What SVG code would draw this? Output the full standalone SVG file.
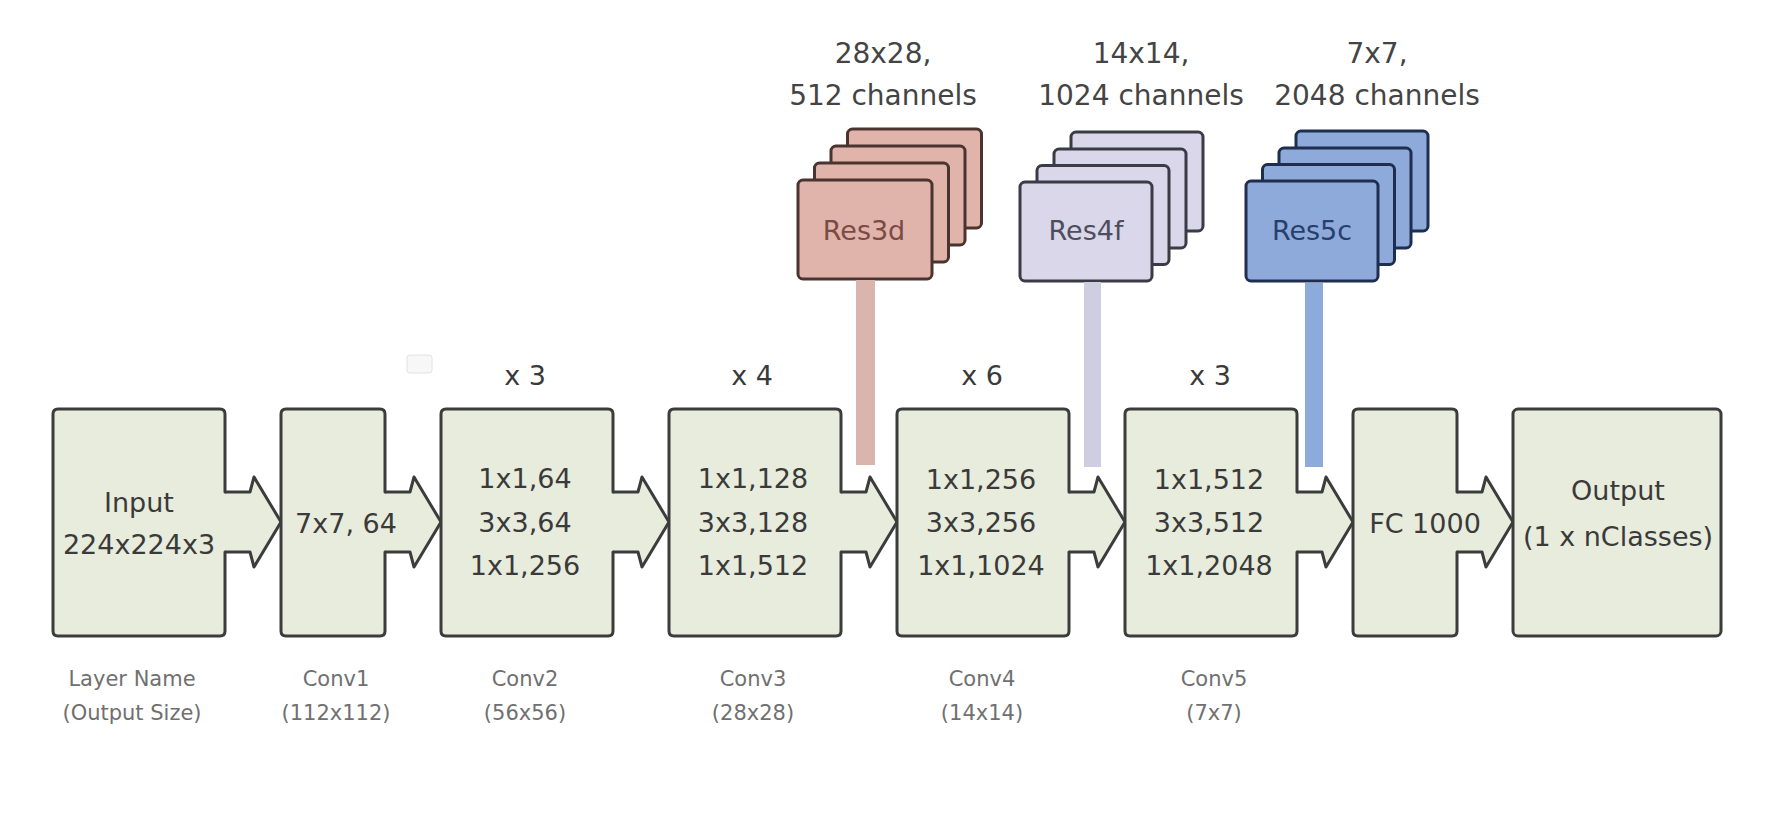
<svg xmlns="http://www.w3.org/2000/svg" width="1774" height="828" viewBox="0 0 1774 828">
<style>
  .bfill { fill: #e8ecdc; stroke: none; }
  .bline { fill: none; stroke: #3c3c3c; stroke-width: 3; stroke-linejoin: round; stroke-linecap: round; }
  .box { fill: #e8ecdc; stroke: #3c3c3c; stroke-width: 3; }
  .afill { fill: #e8ecdc; stroke: none; }
  .aline { fill: none; stroke: #3c3c3c; stroke-width: 3; stroke-linejoin: round; stroke-linecap: round; }
  .t { font-family: "DejaVu Sans", Verdana, sans-serif; font-size: 27px; fill: #3a3a3a; text-anchor: middle; }
  .top { font-family: "DejaVu Sans", Verdana, sans-serif; font-size: 28px; fill: #444; text-anchor: middle; }
  .lbl { font-family: "DejaVu Sans", Verdana, sans-serif; font-size: 21px; fill: #707070; text-anchor: middle; }
  .pink { fill: #e0b4aa; stroke: #4a3430; stroke-width: 3; }
  .lav { fill: #d9d7e9; stroke: #3b3b45; stroke-width: 3; }
  .blue { fill: #8eaadb; stroke: #1e2e50; stroke-width: 3; }
</style>
<rect width="1774" height="828" fill="#ffffff"/>

<!-- faint artifact icon -->
<rect x="407" y="355" width="25" height="18" rx="3" fill="#f7f7f7" stroke="#e2e2e2" stroke-width="1"/>

<!-- top labels -->
<text class="top" x="883" y="63">28x28,</text>
<text class="top" x="883" y="105">512 channels</text>
<text class="top" x="1141" y="63">14x14,</text>
<text class="top" x="1141" y="105">1024 channels</text>
<text class="top" x="1377" y="63">7x7,</text>
<text class="top" x="1377" y="105">2048 channels</text>

<!-- repeat labels -->
<text class="t" x="525" y="385">x 3</text>
<text class="t" x="752" y="385">x 4</text>
<text class="t" x="982" y="385">x 6</text>
<text class="t" x="1210" y="385">x 3</text>

<g id="res3d">
  <rect class="pink" x="847.5" y="129" width="134" height="99" rx="5"/>
  <rect class="pink" x="831" y="146" width="134" height="99" rx="5"/>
  <rect class="pink" x="814.5" y="163" width="134" height="99" rx="5"/>
  <rect class="pink" x="798" y="180" width="134" height="99" rx="5"/>
  <text class="t" x="864" y="240" style="fill:#7a4b45">Res3d</text>
</g>
<g id="res4f">
  <rect class="lav" x="1071" y="132" width="132" height="99" rx="5"/>
  <rect class="lav" x="1054" y="149" width="132" height="99" rx="5"/>
  <rect class="lav" x="1037" y="165.5" width="132" height="99" rx="5"/>
  <rect class="lav" x="1020" y="182" width="132" height="99" rx="5"/>
  <text class="t" x="1086" y="240" style="fill:#4d4d5c">Res4f</text>
</g>
<g id="res5c">
  <rect class="blue" x="1296" y="131" width="132" height="100" rx="5"/>
  <rect class="blue" x="1279" y="148" width="132" height="100" rx="5"/>
  <rect class="blue" x="1262.5" y="164.5" width="132" height="100" rx="5"/>
  <rect class="blue" x="1246" y="181" width="132" height="100" rx="5"/>
  <text class="t" x="1312" y="240" style="fill:#27406b">Res5c</text>
</g>

<g id="connectors">
  <!-- side bars from residual stacks -->
  <rect x="856" y="280" width="19" height="185" fill="#dcb4ae"/>
  <rect x="1084" y="282" width="17" height="185" fill="#cfcde0"/>
  <rect x="1305" y="283" width="18" height="184" fill="#8eaadb"/>

  <!-- block arrows -->
  <path class="afill" d="M225,492 H250 L254,477 L281,522 L254,567 L250,552 H225 Z"/>
  <path class="aline" d="M225,492 H250 L254,477 L281,522 L254,567 L250,552 H225"/>

  <path class="afill" d="M385,492 H410 L414,477 L441,522 L414,567 L410,552 H385 Z"/>
  <path class="aline" d="M385,492 H410 L414,477 L441,522 L414,567 L410,552 H385"/>

  <path class="afill" d="M613,492 H638 L642,477 L669,522 L642,567 L638,552 H613 Z"/>
  <path class="aline" d="M613,492 H638 L642,477 L669,522 L642,567 L638,552 H613"/>

  <path class="afill" d="M841,492 H866 L870,477 L897,522 L870,567 L866,552 H841 Z"/>
  <path class="aline" d="M841,492 H866 L870,477 L897,522 L870,567 L866,552 H841"/>

  <path class="afill" d="M1069,492 H1094 L1098,477 L1125,522 L1098,567 L1094,552 H1069 Z"/>
  <path class="aline" d="M1069,492 H1094 L1098,477 L1125,522 L1098,567 L1094,552 H1069"/>

  <path class="afill" d="M1297,492 H1322 L1326,477 L1353,522 L1326,567 L1322,552 H1297 Z"/>
  <path class="aline" d="M1297,492 H1322 L1326,477 L1353,522 L1326,567 L1322,552 H1297"/>

  <path class="afill" d="M1457,492 H1482 L1486,477 L1513,522 L1486,567 L1482,552 H1457 Z"/>
  <path class="aline" d="M1457,492 H1482 L1486,477 L1513,522 L1486,567 L1482,552 H1457"/>
</g>

<g id="input">
  <rect class="bfill" x="53" y="409" width="172" height="227" rx="5"/>
  <path class="bline" d="M225,552 V631 Q225,636 220,636 H58 Q53,636 53,631 V414 Q53,409 58,409 H220 Q225,409 225,414 V492"/>
  <text class="t" x="139" y="512">Input</text>
  <text class="t" x="139" y="554">224x224x3</text>
  <text class="lbl" x="132" y="686">Layer Name</text>
  <text class="lbl" x="132" y="720">(Output Size)</text>
</g>
<g id="conv1">
  <rect class="bfill" x="281" y="409" width="104" height="227" rx="5"/>
  <path class="bline" d="M385,552 V631 Q385,636 380,636 H286 Q281,636 281,631 V414 Q281,409 286,409 H380 Q385,409 385,414 V492"/>
  <text class="t" x="346" y="533">7x7, 64</text>
  <text class="lbl" x="336" y="686">Conv1</text>
  <text class="lbl" x="336" y="720">(112x112)</text>
</g>
<g id="conv2">
  <rect class="bfill" x="441" y="409" width="172" height="227" rx="5"/>
  <path class="bline" d="M613,552 V631 Q613,636 608,636 H446 Q441,636 441,631 V414 Q441,409 446,409 H608 Q613,409 613,414 V492"/>
  <text class="t" x="525" y="488">1x1,64</text>
  <text class="t" x="525" y="532">3x3,64</text>
  <text class="t" x="525" y="575">1x1,256</text>
  <text class="lbl" x="525" y="686">Conv2</text>
  <text class="lbl" x="525" y="720">(56x56)</text>
</g>
<g id="conv3">
  <rect class="bfill" x="669" y="409" width="172" height="227" rx="5"/>
  <path class="bline" d="M841,552 V631 Q841,636 836,636 H674 Q669,636 669,631 V414 Q669,409 674,409 H836 Q841,409 841,414 V492"/>
  <text class="t" x="753" y="488">1x1,128</text>
  <text class="t" x="753" y="532">3x3,128</text>
  <text class="t" x="753" y="575">1x1,512</text>
  <text class="lbl" x="753" y="686">Conv3</text>
  <text class="lbl" x="753" y="720">(28x28)</text>
</g>
<g id="conv4">
  <rect class="bfill" x="897" y="409" width="172" height="227" rx="5"/>
  <path class="bline" d="M1069,552 V631 Q1069,636 1064,636 H902 Q897,636 897,631 V414 Q897,409 902,409 H1064 Q1069,409 1069,414 V492"/>
  <text class="t" x="981" y="489">1x1,256</text>
  <text class="t" x="981" y="532">3x3,256</text>
  <text class="t" x="981" y="575">1x1,1024</text>
  <text class="lbl" x="982" y="686">Conv4</text>
  <text class="lbl" x="982" y="720">(14x14)</text>
</g>
<g id="conv5">
  <rect class="bfill" x="1125" y="409" width="172" height="227" rx="5"/>
  <path class="bline" d="M1297,552 V631 Q1297,636 1292,636 H1130 Q1125,636 1125,631 V414 Q1125,409 1130,409 H1292 Q1297,409 1297,414 V492"/>
  <text class="t" x="1209" y="489">1x1,512</text>
  <text class="t" x="1209" y="532">3x3,512</text>
  <text class="t" x="1209" y="575">1x1,2048</text>
  <text class="lbl" x="1214" y="686">Conv5</text>
  <text class="lbl" x="1214" y="720">(7x7)</text>
</g>
<g id="fc">
  <rect class="bfill" x="1353" y="409" width="104" height="227" rx="5"/>
  <path class="bline" d="M1457,552 V631 Q1457,636 1452,636 H1358 Q1353,636 1353,631 V414 Q1353,409 1358,409 H1452 Q1457,409 1457,414 V492"/>
  <text class="t" x="1425" y="533">FC 1000</text>
</g>
<g id="output">
  <rect class="box" x="1513" y="409" width="208" height="227" rx="5"/>
  <text class="t" x="1618" y="500">Output</text>
  <text class="t" x="1618" y="546">(1 x nClasses)</text>
</g>
</svg>
